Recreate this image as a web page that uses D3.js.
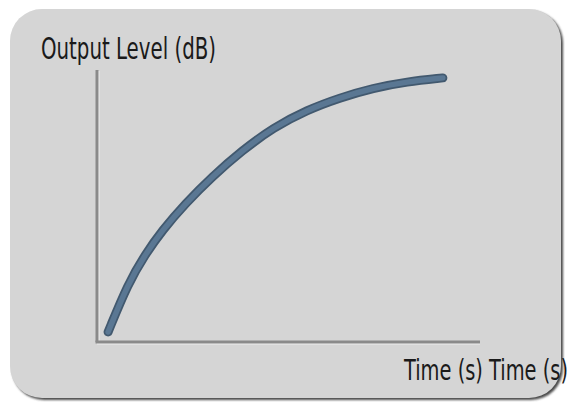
<!DOCTYPE html>
<html><head><meta charset="utf-8">
<script src="https://cdn.jsdelivr.net/npm/d3@7/dist/d3.min.js"></script>
<style>html,body{margin:0;padding:0;background:#fff;}svg{display:block;}</style>
</head><body>
<script>
// Data (arbitrary units)
const timeValues  = [0.29, 0.81, 1.25, 1.70, 2.30, 3.00, 3.79, 4.60, 5.48, 6.34, 7.21, 8.09, 9.03];
const levelValues = [0.37, 2.15, 3.20, 4.10, 5.08, 6.07, 7.04, 7.88, 8.53, 8.98, 9.34, 9.57, 9.71];
const yAxisTitle = "Output Level (dB)";
const xAxisTitle = "Time (s) Time (s)";

const W = 573, H = 404;
const svg = d3.select("body").append("svg").attr("width", W).attr("height", H);

const defs = svg.append("defs");
const f = defs.append("filter").attr("id","blur").attr("x","-10%").attr("y","-10%").attr("width","120%").attr("height","120%");
f.append("feGaussianBlur").attr("stdDeviation", 1.2);

// panel shadow + panel
svg.append("rect").attr("x", 12).attr("y", 11).attr("width", 551).attr("height", 389)
  .attr("rx", 32).attr("fill", "#4a4a4a").attr("filter","url(#blur)");
svg.append("rect").attr("x", 10).attr("y", 9).attr("width", 551).attr("height", 389)
  .attr("rx", 32).attr("fill", "#d5d5d5");

const x = d3.scaleLinear().domain([0, 10]).range([97, 480]);
const y = d3.scaleLinear().domain([0, 10]).range([342, 70]);

// axes (no ticks)
const axisG = svg.append("g");
axisG.append("line").attr("x1", x(0)+1.5).attr("x2", x(0)+1.5).attr("y1", y(10)+1).attr("y2", y(0)+1.5)
  .attr("stroke", "#f0f0f0").attr("stroke-width", 2);
axisG.append("line").attr("x1", x(0)).attr("x2", x(10)).attr("y1", y(0)+1.5).attr("y2", y(0)+1.5)
  .attr("stroke", "#eeeeee").attr("stroke-width", 2);
axisG.append("line").attr("x1", x(0)).attr("x2", x(0)).attr("y1", y(10)).attr("y2", y(0))
  .attr("stroke", "#8a8a8a").attr("stroke-width", 3);
axisG.append("line").attr("x1", x(0)-1.5).attr("x2", x(10)).attr("y1", y(0)).attr("y2", y(0))
  .attr("stroke", "#8a8a8a").attr("stroke-width", 3);

const pts = timeValues.map((t, i) => [t, levelValues[i]]);
const line = d3.line().x(d => x(d[0])).y(d => y(d[1])).curve(d3.curveBasis);

svg.append("path").attr("d", line(pts)).attr("fill", "none")
  .attr("stroke", "#42596f").attr("stroke-width", 9).attr("stroke-linecap", "round");
svg.append("path").attr("d", line(pts)).attr("fill", "none")
  .attr("stroke", "#5a7793").attr("stroke-width", 5.5).attr("stroke-linecap", "round");

const font = "'Liberation Sans Narrow','DejaVu Sans Condensed','Roboto Condensed','Liberation Sans',sans-serif";
svg.append("text").attr("x", 41).attr("y", 59).text(yAxisTitle)
  .attr("font-family", font).attr("font-size", 31).attr("fill", "#1a1a1a")
  .attr("textLength", 175).attr("lengthAdjust", "spacingAndGlyphs");
svg.append("text").attr("x", 404).attr("y", 380).text(xAxisTitle)
  .attr("font-family", font).attr("font-size", 29).attr("fill", "#1a1a1a")
  .attr("textLength", 164).attr("lengthAdjust", "spacingAndGlyphs");
</script>
</body></html>
